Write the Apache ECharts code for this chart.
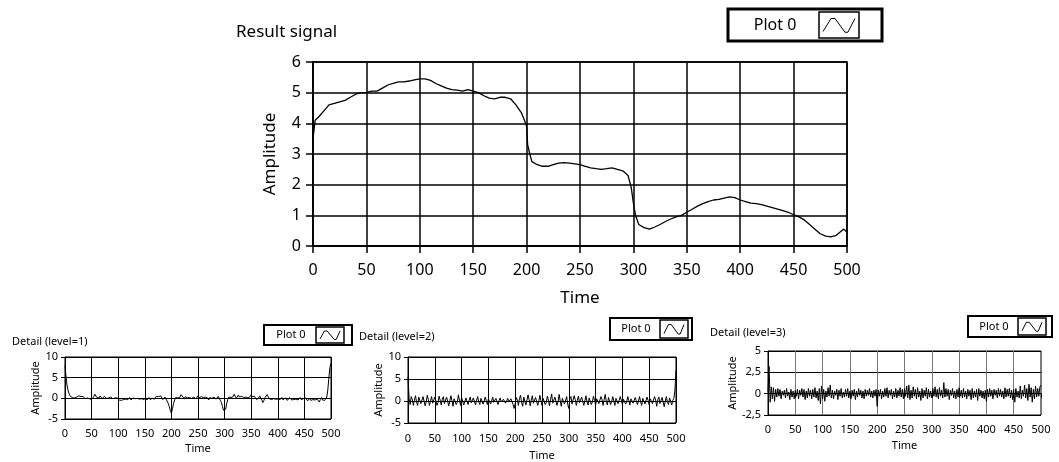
<!DOCTYPE html>
<html>
<head>
<meta charset="utf-8">
<script src="https://cdn.jsdelivr.net/npm/echarts@6/dist/echarts.min.js"></script>
<style>
html, body { margin: 0; padding: 0; background: #fff; }
#main { width: 1059px; height: 462px; }
</style>
</head>
<body>
<div id="main"></div>
<script>
// Result signal (irregular time steps)
var resultTime = [0, 2, 5, 10, 15, 20, 25, 30, 35, 40, 45, 50, 55, 60, 65, 70, 75, 80, 85, 90, 95,
  100, 105, 110, 115, 120, 125, 130, 135, 140, 145, 150, 155, 160, 165, 170, 175, 180, 185, 190, 195, 198,
  200, 201, 203, 205, 210, 215, 220, 225, 230, 235, 240, 245, 250, 255, 260, 265, 270, 275, 280, 285, 290, 295, 298,
  300, 302, 305, 310, 315, 320, 325, 330, 335, 340, 345, 350, 355, 360, 365, 370, 375, 380, 385, 390, 395,
  400, 405, 410, 415, 420, 425, 430, 435, 440, 445, 450, 455, 460, 465, 470, 475, 480, 485, 490, 495, 497, 500];
var resultAmp = [3.5, 4.1, 4.2, 4.4, 4.6, 4.65, 4.7, 4.75, 4.85, 4.95, 5.0, 5.0, 5.05, 5.05, 5.15, 5.25, 5.3, 5.35, 5.35, 5.38, 5.42,
  5.45, 5.45, 5.4, 5.3, 5.22, 5.15, 5.1, 5.08, 5.05, 5.1, 5.05, 5.0, 4.9, 4.82, 4.8, 4.85, 4.85, 4.8, 4.6, 4.35, 4.1,
  3.9, 3.3, 3.0, 2.75, 2.65, 2.6, 2.6, 2.65, 2.7, 2.72, 2.7, 2.68, 2.65, 2.6, 2.55, 2.52, 2.5, 2.52, 2.55, 2.5, 2.45, 2.3, 1.9,
  1.4, 1.0, 0.7, 0.6, 0.55, 0.62, 0.7, 0.8, 0.88, 0.95, 1.0, 1.1, 1.2, 1.3, 1.38, 1.45, 1.5, 1.52, 1.56, 1.6, 1.58,
  1.5, 1.45, 1.4, 1.38, 1.35, 1.3, 1.25, 1.2, 1.15, 1.1, 1.02, 0.95, 0.85, 0.7, 0.55, 0.4, 0.32, 0.3, 0.35, 0.5, 0.55, 0.45];

// Detail signals, one value every 2 time units (0..500)
var detailStep = 2;
var detail1 = [
  8, 5, 3, 1.8, 1.0, 0.5, 0.8, 0.2, -0.1, 0.1, -0.2, 0.3, 0.1, 0.6, 0.9, 0.4, 0.1, 0.5, 0.2, -0.1, 0.3, 0.1, -0.3, -0.1, 0.2,
  -0.3, 0.1, 0.4, 1.0, 0.6, 0.2, -0.2, 0.1, 0.6, 0.2, -0.1, 0.3, 0.5, 0.2, 0.0, 0.4, 0.1, -0.2, 0.3, 0.2, -0.1, 0.2, 0.1, -0.2, 0.1,
  -0.1, -0.4, -0.2, -0.5, -0.1, -0.3, -0.6, -0.2, 0.1, -0.3, -0.1, 0.2, -0.4, -0.2, 0.1, 0.3, -0.1, -0.3, 0.0, 0.2, -0.2, -0.4, -0.1, 0.1, -0.3,
  -0.2, 0.1, -0.4, -0.1, 0.2, -0.3, -0.5, 0.0, 0.3, -0.2, 0.1, 0.5, 0.8, 0.4, 0.1, 0.6, 0.2, -0.3, -0.1, 0.3, -0.2, -0.6, -1.2, -2.0, -3.0,
  -3.6, -2.5, -1.3, -0.4, 0.2, 0.6, 0.1, -0.3, 0.2, 0.9, 1.0, 0.3, -0.2, 0.4, 0.7, 0.1, -0.3, 0.2, 0.6, 0.0, -0.4, 0.3, 0.5, -0.1, 0.2,
  0.6, 0.1, -0.3, 0.4, 0.7, 0.2, -0.2, 0.3, 0.6, 0.1, -0.4, 0.2, 0.5, 0.0, -0.3, 0.3, 0.2, -0.2, 0.1, 0.5, 0.0, -0.5, -1.0, -2.0, -2.9,
  -3.3, -2.6, -1.2, -0.3, 0.3, 0.7, 0.2, -0.2, 0.4, 1.0, 0.5, 0.0, 0.4, 0.8, 0.3, -0.1, 0.5, 0.7, 0.2, -0.2, 0.3, 0.6, 0.1, -0.2, 0.4,
  0.9, 0.4, 0.0, 0.5, 0.2, -0.3, -0.7, 0.1, 0.6, 0.3, -0.4, -1.0, -0.5, 0.2, 0.6, 0.9, 0.4, -0.1, 0.2, -0.3, -0.6, -0.1, 0.3, -0.2, -0.5,
  -0.2, 0.1, -0.3, -0.1, 0.2, -0.4, -0.2, 0.1, -0.3, -0.5, -0.1, 0.2, -0.2, -0.4, 0.0, -0.3, -0.6, -0.2, 0.1, -0.4, -0.2, 0.2, -0.3, -0.5, -0.1,
  -0.4, 0.1, -0.3, -0.6, -0.2, 0.0, -0.5, -0.8, -0.3, 0.1, -0.4, -0.7, -0.2, -0.5, -0.9, -0.3, 0.2, -0.4, -0.8, -0.5, -0.7, 0.3, 2.0, 5.0, 7.5,
  8.5];
var detail2 = [
  5.5, 0.5, -0.8, 1.0, 0.4, -1.0, 0.2, 1.2, -0.3, -1.0, 0.9, 1.1, -0.6, -0.9, 1.0, 0.7, -1.1, -0.2, 1.3, 0.3, -1.0, 0.1, 1.0, -0.5, -0.8,
  0.9, 0.6, -1.0, -0.3, 1.1, 0.2, -0.9, 0.4, 1.0, -0.6, -0.7, 0.9, 0.5, -1.1, 0.0, 1.2, 0.1, -1.2, 0.5, 0.9, -0.8, -0.3, 1.4, 0.2, -1.0,
  0.8, 0.5, -0.9, -0.2, 0.7, 0.4, -0.8, 0.1, 0.9, -0.4, -0.6, 0.7, 0.3, -0.9, 0.2, 1.0, -0.2, -0.8, 0.6, 0.5, -0.7, -0.1, 0.9, 0.1, -0.8,
  0.5, 0.4, -0.7, 0.0, 0.9, -0.3, -0.6, 0.6, 0.4, -0.8, 0.1, 0.7, -0.2, -0.6, 0.4, 0.3, -0.5, 0.0, 0.6, -0.2, -0.4, 0.5, 0.2, -0.8, -1.7,
  -0.6, 0.8, 0.2, -1.0, 0.6, 1.3, -0.4, -1.2, 0.9, 1.0, -0.9, -0.5, 1.4, 0.3, -1.1, 0.2, 1.2, -0.5, -0.9, 0.8, 0.6, -1.0, -0.1, 1.3, 0.1,
  -1.0, 0.6, 0.9, -0.8, -0.3, 1.1, 0.2, -1.1, 0.4, 1.6, -0.5, -0.9, 0.9, 0.7, -1.0, -0.1, 1.5, 0.0, -1.2, 0.6, 0.8, -0.7, -0.4, 1.0, -0.8,
  -1.7, 0.5, 1.0, -0.7, -0.6, 1.2, 0.3, -1.0, 0.2, 1.1, -0.4, -0.8, 0.9, 0.5, -1.0, 0.0, 1.2, -0.2, -0.9, 0.7, 0.6, -0.8, -0.2, 1.1, 0.1,
  -0.9, 0.5, 0.9, -0.6, -0.5, 1.0, 0.3, -1.0, 0.4, 1.5, -0.3, -0.9, 0.8, 0.6, -0.8, -0.1, 1.0, 0.0, -1.0, 0.6, 0.8, -0.6, -0.4, 1.0, 0.2,
  -0.8, 0.4, 0.8, -0.7, -0.2, 1.0, 0.1, -0.9, 0.5, 0.9, -0.5, -0.6, 0.8, 0.4, -0.8, 0.0, 1.0, -0.2, -1.0, 0.6, 0.7, -0.7, -0.3, 0.9, 0.1,
  -0.9, 0.5, 0.9, -0.6, -0.4, 1.0, 0.2, -1.2, 0.3, 0.9, -0.6, -0.7, 0.8, 0.5, -1.3, 0.0, 1.0, -0.3, -0.8, 0.7, 0.5, -0.9, 0.1, 0.6, 2.5,
  7.0];
var detail3 = [
  0.2, 3.2, -1.0, 0.8, -0.6, 0.7, -0.9, 0.5, -0.4, 0.6, -0.3, 0.5, -0.6, 0.3, -0.2, 0.4, -0.5, 0.6, -0.3, 0.2, -0.7, 0.5, -0.4, 0.3, -0.6,
  0.4, -0.3, 0.5, -0.6, 0.4, -0.2, 0.6, -0.4, 0.5, -0.7, 0.3, -0.5, 0.6, -0.3, 0.4, -0.6, 0.5, -0.4, 0.7, -0.5, 0.3, -0.8, 0.6, -1.2, 0.9,
  -0.6, 0.5, -0.9, 0.3, -0.4, 0.7, -0.3, 1.0, -0.5, 0.4, -0.6, 0.3, -0.2, 0.5, -0.7, 0.4, -0.3, 0.6, -0.5, 0.2, -0.4, 0.5, -0.3, 0.6, -0.5,
  0.3, -0.6, 0.4, -0.3, 0.5, -0.7, 0.3, -0.4, 0.6, -0.2, 0.4, -0.5, 0.3, -0.6, 0.5, -0.3, 0.4, -0.2, 0.6, -0.4, 0.3, -0.5, 0.4, -0.3, 0.5,
  -1.5, 0.4, -0.3, 0.5, -0.6, 0.3, -0.4, 0.6, -0.3, 0.7, -0.5, 0.4, -0.2, 0.5, -0.6, 0.3, -0.4, 0.6, -0.5, 0.4, -0.3, 0.7, -0.4, 0.5, -0.6,
  0.6, -0.3, 0.9, -0.5, 1.0, -0.7, 0.4, -0.5, 0.8, -0.3, 0.5, -0.6, 0.7, -0.4, 0.3, -0.8, 0.6, -0.5, 0.4, -0.3, 0.7, -0.6, 0.5, -0.4, 0.3,
  -0.5, 0.6, -0.3, 0.8, -0.4, 0.5, -0.6, 0.7, -0.3, 0.4, -0.5, 1.3, -0.4, 0.6, -0.3, 0.5, -0.7, 0.4, -0.2, 0.6, -0.5, 0.3, -0.6, 0.5, -0.4,
  0.7, -0.3, 0.4, -0.5, 0.6, -0.4, 0.3, -0.6, 0.5, -0.3, 0.4, -0.7, 0.6, -0.5, 0.3, -0.4, 0.5, -0.8, 0.6, -0.3, 0.4, -0.5, 0.3, -0.6, 0.4,
  -0.9, 0.5, -0.4, 0.6, -0.3, 0.4, -0.6, 0.5, -0.2, 0.4, -0.5, 0.6, -0.3, 0.5, -0.4, 0.3, -0.6, 0.7, -0.4, 0.5, -0.3, 0.6, -0.5, 0.4, -0.7,
  0.5, -1.0, 0.6, -0.4, 0.3, -0.5, 0.9, -0.6, 0.4, -0.3, 1.0, -0.5, 0.6, -0.8, 1.1, -0.4, 0.7, -1.0, 0.5, -0.6, 0.9, -0.4, 0.6, -0.3, 0.8,
  1.0];

var plotName = 'Plot 0';
var FONT = 'Noto Sans';

function pairs(times, values) {
  return values.map(function (v, i) { return [times[i], v]; });
}
function sampled(values) {
  return values.map(function (v, i) { return [i * detailStep, v]; });
}
function commaDecimal(v) {
  return String(v).replace('.', ',');
}

function xAxisFor(gridIndex, fs, nameFs, nameGap, margin, lw, tickLen, gridColor) {
  return {
    type: 'value', gridIndex: gridIndex, min: 0, max: 500, interval: 50,
    name: 'Time', nameLocation: 'middle', nameGap: nameGap,
    nameTextStyle: { color: '#000', fontFamily: FONT, fontSize: nameFs },
    axisLine: { show: true, lineStyle: { color: '#000', width: lw } },
    axisTick: { show: true, length: tickLen, lineStyle: { color: '#000', width: lw } },
    axisLabel: { color: '#000', fontFamily: FONT, fontSize: fs, margin: margin },
    splitLine: { show: true, lineStyle: { color: gridColor || '#000', width: lw } }
  };
}
function yAxisFor(gridIndex, min, max, interval, fs, nameFs, nameGap, margin, lw, tickLen, fmt) {
  return {
    type: 'value', gridIndex: gridIndex, min: min, max: max, interval: interval,
    name: 'Amplitude', nameLocation: 'middle', nameGap: nameGap,
    nameTextStyle: { color: '#000', fontFamily: FONT, fontSize: nameFs },
    axisLine: { show: true, lineStyle: { color: '#000', width: lw } },
    axisTick: { show: true, length: tickLen, lineStyle: { color: '#000', width: lw } },
    axisLabel: { color: '#000', fontFamily: FONT, fontSize: fs, margin: margin, formatter: fmt },
    splitLine: { show: true, lineStyle: { color: '#000', width: lw } }
  };
}
function lineSeries(idx, data, w) {
  return {
    name: plotName, type: 'line', xAxisIndex: idx, yAxisIndex: idx,
    data: data, showSymbol: false, animation: false,
    lineStyle: { color: '#000', width: w }
  };
}

// LabVIEW style plot legend: framed name cell + line icon cell
function legendBox(x, y, w, h, textW, iconW, fs, bw) {
  var ih = h - 2 * bw;
  var iy = y + bw;
  var ix = x + bw + textW;
  var pad = 4;
  return {
    type: 'group',
    children: [
      { type: 'rect', shape: { x: x, y: y, width: w, height: h },
        style: { fill: '#fff', stroke: '#000', lineWidth: bw } },
      { type: 'text', x: x + bw + textW / 2, y: y + h / 2,
        style: { text: plotName, fontFamily: FONT, fontSize: fs, fill: '#000', align: 'center', verticalAlign: 'middle' } },
      { type: 'rect', shape: { x: ix, y: iy, width: iconW, height: ih },
        style: { fill: '#fff', stroke: '#000', lineWidth: 1.5 } },
      { type: 'polyline', shape: { points: [
          [ix + pad, iy + ih * 0.75], [ix + iconW * 0.3, iy + ih * 0.25], [ix + iconW * 0.4, iy + ih * 0.25],
          [ix + iconW * 0.65, iy + ih * 0.78], [ix + iconW * 0.72, iy + ih * 0.78], [ix + iconW - pad, iy + ih * 0.25]] },
        style: { stroke: '#000', lineWidth: 1, fill: null } }
    ]
  };
}

var chart = echarts.init(document.getElementById('main'), null, { renderer: 'canvas' });
chart.setOption({
  animation: false,
  backgroundColor: '#fff',
  title: [
    { text: 'Result signal', left: 231, top: 19, textStyle: { fontFamily: FONT, fontSize: 17, fontWeight: 'normal', color: '#000' } },
    { text: 'Detail (level=1)', left: 7, top: 331, textStyle: { fontFamily: FONT, fontSize: 11, fontWeight: 'normal', color: '#000' } },
    { text: 'Detail (level=2)', left: 354, top: 326, textStyle: { fontFamily: FONT, fontSize: 11, fontWeight: 'normal', color: '#000' } },
    { text: 'Detail (level=3)', left: 705, top: 322, textStyle: { fontFamily: FONT, fontSize: 11, fontWeight: 'normal', color: '#000' } }
  ],
  grid: [
    { left: 313, top: 62, width: 534, height: 184, show: true, borderColor: '#000', borderWidth: 1.5, backgroundColor: '#fff' },
    { left: 65, top: 357, width: 266, height: 62, show: true, borderColor: '#000', borderWidth: 1, backgroundColor: '#fff' },
    { left: 408, top: 357, width: 268, height: 66, show: true, borderColor: '#000', borderWidth: 1, backgroundColor: '#fff' },
    { left: 768, top: 351, width: 273, height: 64, show: true, borderColor: '#000', borderWidth: 1, backgroundColor: '#fff' }
  ],
  xAxis: [
    xAxisFor(0, 16, 17, 44, 16, 1.5, 7),
    xAxisFor(1, 11, 11, 24, 9, 1, 4),
    xAxisFor(2, 11, 11, 27, 10, 1, 4),
    xAxisFor(3, 11, 11, 25, 9, 1, 4, '#777')
  ],
  yAxis: [
    yAxisFor(0, 0, 6, 1, 16, 17, 34, 12, 1.5, 7),
    yAxisFor(1, -5, 10, 5, 11, 11, 23, 7, 1, 4),
    yAxisFor(2, -5, 10, 5, 11, 11, 23, 7, 1, 4),
    yAxisFor(3, -2.5, 5, 2.5, 11, 11, 25, 7, 1, 4, commaDecimal)
  ],
  series: [
    lineSeries(0, pairs(resultTime, resultAmp), 1.3),
    lineSeries(1, sampled(detail1), 1),
    lineSeries(2, sampled(detail2), 1),
    lineSeries(3, sampled(detail3), 1)
  ],
  graphic: [
    legendBox(728, 9, 154, 32, 88, 40, 16, 3),
    legendBox(264, 325, 88, 20, 50, 28, 11, 2),
    legendBox(610, 318, 82, 22, 48, 28, 11, 2),
    legendBox(968, 316, 84, 21, 48, 28, 11, 2)
  ]
});
</script>
</body>
</html>
